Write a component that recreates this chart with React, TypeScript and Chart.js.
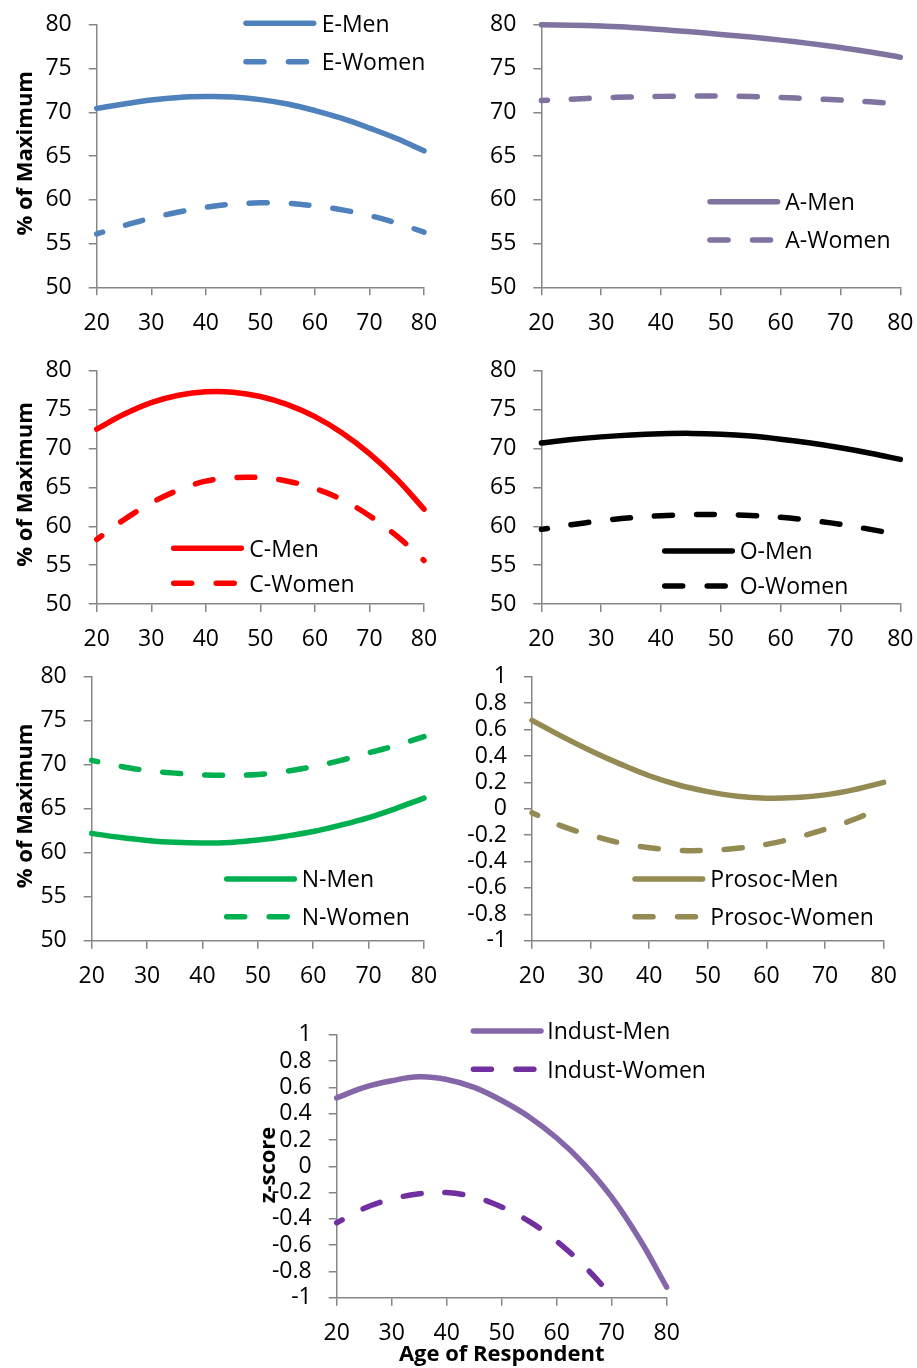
import React, { useEffect, useRef } from 'react';
import { Chart, registerables } from 'chart.js';

Chart.register(...registerables);

// ---------- data ----------
const AGES = [20, 25, 30, 35, 40, 45, 50, 55, 60, 65, 70, 75, 80];
const AGE_TICKS = [20, 30, 40, 50, 60, 70, 80];
const PCT_TICKS = [50, 55, 60, 65, 70, 75, 80];
const Z_TICKS = [-1, -0.8, -0.6, -0.4, -0.2, 0, 0.2, 0.4, 0.6, 0.8, 1];

const E_MEN = [70.45, 70.95, 71.4, 71.7, 71.8, 71.75, 71.45, 70.95, 70.2, 69.3, 68.2, 67.0, 65.6];
const E_WOMEN = [56.1, 57.05, 57.9, 58.6, 59.15, 59.5, 59.65, 59.6, 59.3, 58.85, 58.2, 57.35, 56.3];
const A_MEN = [80.0, 79.95, 79.85, 79.7, 79.45, 79.2, 78.9, 78.6, 78.25, 77.85, 77.4, 76.9, 76.3];
const A_WOMEN = [71.35, 71.5, 71.65, 71.75, 71.82, 71.85, 71.85, 71.8, 71.7, 71.55, 71.4, 71.2, 70.95];
const C_MEN = [72.5, 74.4, 75.9, 76.85, 77.3, 77.25, 76.7, 75.65, 74.1, 72.0, 69.35, 66.1, 62.2];
const C_WOMEN = [58.3, 60.85, 63.0, 64.65, 65.8, 66.25, 66.25, 65.8, 64.85, 63.4, 61.35, 58.75, 55.6];
const O_MEN = [70.7, 71.15, 71.5, 71.75, 71.9, 71.95, 71.85, 71.6, 71.2, 70.7, 70.1, 69.4, 68.6];
const O_WOMEN = [59.6, 60.2, 60.7, 61.1, 61.35, 61.5, 61.5, 61.4, 61.15, 60.75, 60.25, 59.6, 58.9];
const N_MEN = [62.2, 61.75, 61.4, 61.18, 61.1, 61.17, 61.45, 61.88, 62.42, 63.15, 64.0, 65.05, 66.2];
const N_WOMEN = [70.5, 69.85, 69.35, 69.05, 68.85, 68.8, 68.9, 69.25, 69.8, 70.5, 71.35, 72.2, 73.2];
const PROSOC_MEN = [0.67, 0.55, 0.44, 0.34, 0.25, 0.18, 0.13, 0.095, 0.08, 0.085, 0.105, 0.145, 0.2];
const PROSOC_WOMEN = [-0.03, -0.13, -0.2, -0.258, -0.295, -0.315, -0.315, -0.3, -0.27, -0.22, -0.155, -0.08, 0.02];
const INDUST_MEN = [0.52, 0.6, 0.65, 0.68, 0.66, 0.6, 0.5, 0.375, 0.215, 0.015, -0.235, -0.55, -0.92];
const INDUST_WOMEN = [-0.43, -0.32, -0.25, -0.21, -0.2, -0.235, -0.31, -0.42, -0.57, -0.76, -0.99, -1.25, -1.55];

// ---------- styling ----------
const FONT = '"Open Sans", "DejaVu Sans", sans-serif';
const AXIS = '#868686';
const LINE_W = 5.5;
const DASH = [18, 24];

type Series = { label: string; data: number[]; color: string; dashed: boolean };
type Panel = {
  area: [number, number, number, number];
  min: number;
  max: number;
  ticks: number[];
  series: Series[];
  legend: { x: number; y1: number; y2: number; textX: number };
  yTitle?: { text: string; x: number; y: number };
  xTitle?: { text: string; x: number; y: number };
};

const PANELS: Panel[] = [
  {
    area: [96.7, 19.3, 424, 287.3], min: 50, max: 80, ticks: PCT_TICKS,
    series: [
      { label: 'E-Men', data: E_MEN, color: '#4F81BD', dashed: false },
      { label: 'E-Women', data: E_WOMEN, color: '#4F81BD', dashed: true },
    ],
    legend: { x: 243.3, y1: 23.3, y2: 61.7, textX: 321.7 },
    yTitle: { text: '% of Maximum', x: 31.7, y: 153.3 },
  },
  {
    area: [541.3, 19.3, 900.3, 287.3], min: 50, max: 80, ticks: PCT_TICKS,
    series: [
      { label: 'A-Men', data: A_MEN, color: '#8073A0', dashed: false },
      { label: 'A-Women', data: A_WOMEN, color: '#8073A0', dashed: true },
    ],
    legend: { x: 707.3, y1: 201.7, y2: 240, textX: 785.3 },
  },
  {
    area: [96.7, 365, 424, 604], min: 50, max: 80, ticks: PCT_TICKS,
    series: [
      { label: 'C-Men', data: C_MEN, color: '#FF0000', dashed: false },
      { label: 'C-Women', data: C_WOMEN, color: '#FF0000', dashed: true },
    ],
    legend: { x: 171, y1: 548.3, y2: 583.3, textX: 249.3 },
    yTitle: { text: '% of Maximum', x: 31.7, y: 484.5 },
  },
  {
    area: [541.3, 365, 900.3, 604], min: 50, max: 80, ticks: PCT_TICKS,
    series: [
      { label: 'O-Men', data: O_MEN, color: '#000000', dashed: false },
      { label: 'O-Women', data: O_WOMEN, color: '#000000', dashed: true },
    ],
    legend: { x: 662, y1: 551, y2: 586, textX: 739.7 },
  },
  {
    area: [91.7, 671, 424, 940.7], min: 50, max: 80, ticks: PCT_TICKS,
    series: [
      { label: 'N-Men', data: N_MEN, color: '#00B050', dashed: false },
      { label: 'N-Women', data: N_WOMEN, color: '#00B050', dashed: true },
    ],
    legend: { x: 224, y1: 879, y2: 916.7, textX: 301.7 },
    yTitle: { text: '% of Maximum', x: 31.7, y: 806 },
  },
  {
    area: [532, 671, 883.7, 940.7], min: -1, max: 1, ticks: Z_TICKS,
    series: [
      { label: 'Prosoc-Men', data: PROSOC_MEN, color: '#948A54', dashed: false },
      { label: 'Prosoc-Women', data: PROSOC_WOMEN, color: '#948A54', dashed: true },
    ],
    legend: { x: 632.3, y1: 879, y2: 916.7, textX: 710.3 },
  },
  {
    area: [336.7, 1029.3, 666.7, 1297.7], min: -1, max: 1, ticks: Z_TICKS,
    series: [
      { label: 'Indust-Men', data: INDUST_MEN, color: '#8566A8', dashed: false },
      { label: 'Indust-Women', data: INDUST_WOMEN, color: '#7030A0', dashed: true },
    ],
    legend: { x: 470.7, y1: 1031, y2: 1069.3, textX: 547.3 },
    yTitle: { text: 'z-score', x: 275, y: 1165 },
    xTitle: { text: 'Age of Respondent', x: 501.7, y: 1361 },
  },
];

function PanelChart({ panel }: { panel: Panel }) {
  const ref = useRef<HTMLCanvasElement>(null);
  const [l, t, r, b] = panel.area;
  const box = {
    left: Math.floor(l - 95),
    top: Math.floor(t - 25),
    right: Math.ceil(r + 60),
    bottom: Math.ceil(b + 72),
  };
  const W = box.right - box.left;
  const H = box.bottom - box.top;

  useEffect(() => {
    const YW = 90;
    const XH = 62;
    const decor = {
      id: 'decor',
      afterDraw(chart: any) {
        const ctx = chart.ctx as CanvasRenderingContext2D;
        ctx.save();
        const lg = panel.legend;
        panel.series.forEach((s, i) => {
          const y = (i === 0 ? lg.y1 : lg.y2) - box.top;
          const x0 = lg.x - box.left;
          ctx.beginPath();
          ctx.strokeStyle = s.color;
          ctx.lineWidth = LINE_W;
          ctx.lineCap = 'round';
          ctx.setLineDash(s.dashed ? [18, 24.5] : []);
          ctx.moveTo(x0 + 2.7, y);
          ctx.lineTo(x0 + 73 - 2.7, y);
          ctx.stroke();
          ctx.setLineDash([]);
          ctx.fillStyle = '#000';
          ctx.font = `23px ${FONT}`;
          ctx.textAlign = 'left';
          ctx.textBaseline = 'alphabetic';
          ctx.fillText(s.label, lg.textX - box.left, y + 8.3);
        });
        ctx.fillStyle = '#000';
        ctx.font = `bold 22px ${FONT}`;
        ctx.textAlign = 'center';
        ctx.textBaseline = 'alphabetic';
        if (panel.yTitle) {
          ctx.save();
          ctx.translate(panel.yTitle.x - box.left, panel.yTitle.y - box.top);
          ctx.rotate(-Math.PI / 2);
          ctx.fillText(panel.yTitle.text, 0, 0);
          ctx.restore();
        }
        if (panel.xTitle) {
          ctx.fillText(panel.xTitle.text, panel.xTitle.x - box.left, panel.xTitle.y - box.top);
        }
        ctx.restore();
      },
    };

    const tickFont = { family: FONT, size: 23 };
    const chart = new Chart(ref.current as HTMLCanvasElement, {
      type: 'line',
      data: {
        datasets: panel.series.map((s) => ({
          label: s.label,
          data: AGES.map((a, i) => ({ x: a, y: s.data[i] })),
          borderColor: s.color,
          backgroundColor: s.color,
          borderWidth: LINE_W,
          borderDash: s.dashed ? DASH : [],
          borderDashOffset: 12,
          borderCapStyle: 'round',
          borderJoinStyle: 'round',
          pointRadius: 0,
          pointHoverRadius: 0,
          tension: 0.4,
          fill: false,
          clip: { left: 3, top: 3, right: 3, bottom: 0 },
        })),
      },
      options: {
        responsive: false,
        animation: false,
        events: [],
        layout: {
          padding: {
            left: l - box.left - YW,
            top: t - box.top,
            right: box.right - r,
            bottom: box.bottom - b - XH,
          },
        },
        plugins: { legend: { display: false }, tooltip: { enabled: false } },
        scales: {
          x: {
            type: 'linear',
            min: 20,
            max: 80,
            afterBuildTicks: (sc: any) => {
              sc.ticks = AGE_TICKS.map((v) => ({ value: v }));
            },
            afterFit: (sc: any) => {
              sc.height = XH;
            },
            grid: { drawOnChartArea: false, drawTicks: true, tickLength: 8, color: AXIS, lineWidth: 1.5 },
            border: { display: true, color: AXIS, width: 1.5 },
            ticks: { autoSkip: false, maxRotation: 0, padding: 14, color: '#000', font: tickFont },
          },
          y: {
            type: 'linear',
            min: panel.min,
            max: panel.max,
            afterBuildTicks: (sc: any) => {
              sc.ticks = panel.ticks.map((v) => ({ value: v }));
            },
            afterFit: (sc: any) => {
              sc.width = YW;
            },
            grid: { drawOnChartArea: false, drawTicks: true, tickLength: 8, color: AXIS, lineWidth: 1.5 },
            border: { display: true, color: AXIS, width: 1.5 },
            ticks: {
              autoSkip: false,
              padding: 17,
              color: '#000',
              font: tickFont,
              callback: (v: any) => String(Math.round(Number(v) * 10) / 10),
            },
          },
        },
      } as any,
      plugins: [decor],
    });
    const fontsReady = (document as any).fonts;
    if (fontsReady && fontsReady.ready) {
      fontsReady.ready.then(() => {
        if ((chart as any).ctx) chart.update();
      });
    }
    return () => chart.destroy();
  }, []);

  return (
    <canvas
      ref={ref}
      width={W}
      height={H}
      style={{ position: 'absolute', left: box.left, top: box.top, width: W, height: H }}
    />
  );
}

export default function App() {
  return (
    <div
      style={{
        position: 'absolute',
        left: 0,
        top: 0,
        width: 917,
        height: 1368,
        overflow: 'hidden',
        background: '#fff',
      }}
    >
      {PANELS.map((p, i) => (
        <PanelChart key={i} panel={p} />
      ))}
    </div>
  );
}
